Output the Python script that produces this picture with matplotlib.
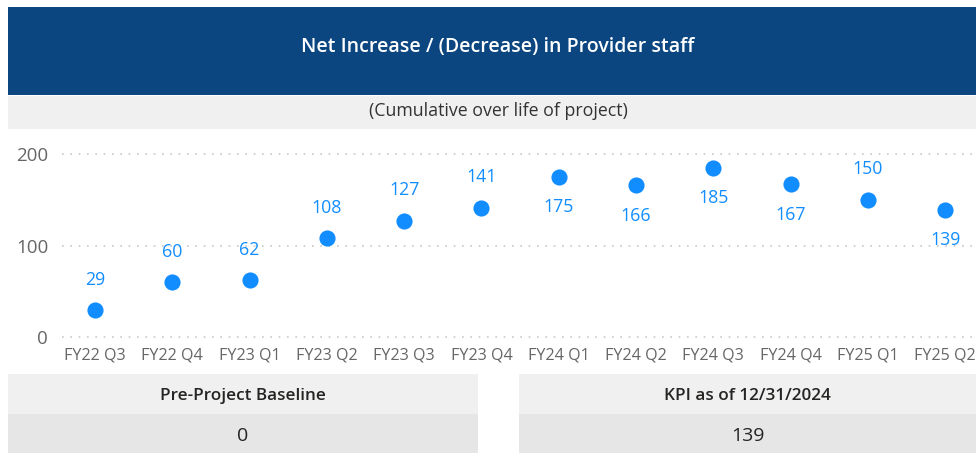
import matplotlib
matplotlib.use("Agg")
import matplotlib.pyplot as plt
from matplotlib.patches import Rectangle

# ── Data ──────────────────────────────────────────────────────────
QUARTERS = ["FY22 Q3", "FY22 Q4", "FY23 Q1", "FY23 Q2", "FY23 Q3", "FY23 Q4",
            "FY24 Q1", "FY24 Q2", "FY24 Q3", "FY24 Q4", "FY25 Q1", "FY25 Q2"]
STAFF = [29, 60, 62, 108, 127, 141, 175, 166, 185, 167, 150, 139]
LABEL_BELOW = [False, False, False, False, False, False,
               True, True, True, True, False, True]

TITLE = "Net Increase / (Decrease) in Provider staff"
SUBTITLE = "(Cumulative over life of project)"
BASELINE_LABEL = "Pre-Project Baseline"
BASELINE_VALUE = 0
KPI_LABEL = "KPI as of 12/31/2024"
KPI_VALUE = STAFF[-1]

# ── Style ─────────────────────────────────────────────────────────
W, H = 976, 453
NAVY = "#0B4680"
DOT = "#118DFF"
GREY_TXT = "#666666"
BAND = "#F0F0F0"
BAND_DARK = "#E6E6E6"
plt.rcParams["font.family"] = ["Open Sans", "DejaVu Sans"]

fig = plt.figure(figsize=(W / 100, H / 100), dpi=100)
fig.patch.set_facecolor("white")


def box(x0, y0, x1, y1, color):
    """Rectangle given in pixels from the top-left corner."""
    fig.add_artist(Rectangle((x0 / W, 1 - y1 / H), (x1 - x0) / W, (y1 - y0) / H,
                             transform=fig.transFigure, facecolor=color,
                             edgecolor="none", zorder=0))


def label(x, y, s, **kw):
    fig.text(x / W, 1 - y / H, s, ha="center", va="center", **kw)


# header bands
box(8, 7, W, 95, NAVY)
label(498, 47, TITLE, color="white", fontsize=14, fontweight="semibold")
box(8, 96, W, 129, BAND)
label(498, 111, SUBTITLE, color="#333333", fontsize=12.8)

# ── Scatter ───────────────────────────────────────────────────────
ax_l, ax_r, ax_t, ax_b = 62, W, 140, 345
ax = fig.add_axes([ax_l / W, 1 - ax_b / H, (ax_r - ax_l) / W, (ax_b - ax_t) / H])
x = range(len(QUARTERS))
ax.scatter(x, STAFF, s=135, color=DOT, zorder=3, linewidths=0)
for xi, v, below in zip(x, STAFF, LABEL_BELOW):
    off = -22 if below else 22
    ax.annotate(str(v), (xi, v), xytext=(0, off), textcoords="offset points",
                ha="center", va="center", color=DOT, fontsize=12.8)

ax.set_xlim(-0.427, 11.40)
ax.set_ylim(-8.7, 215.3)
ax.set_yticks([0, 100, 200])
ax.set_xticks(list(x))
ax.set_xticklabels(QUARTERS)
ax.tick_params(axis="both", length=0, colors=GREY_TXT)
ax.tick_params(axis="y", pad=10, labelsize=13.5)
ax.tick_params(axis="x", pad=2, labelsize=11.6)
ax.grid(axis="y", color="#C8C8C8", linestyle=(0, (1, 4)), linewidth=1.2)
for sp in ax.spines.values():
    sp.set_visible(False)
ax.set_facecolor("none")

# ── KPI cards ─────────────────────────────────────────────────────
for (x0, x1, head, val) in [(8, 478, BASELINE_LABEL, BASELINE_VALUE),
                            (519, W, KPI_LABEL, KPI_VALUE)]:
    box(x0, 374, x1, 414, BAND)
    box(x0, 414, x1, H, BAND_DARK)
    cx = (x0 + x1) / 2
    label(cx, 396, head, color="#252423", fontsize=12.3, fontweight="semibold")
    label(cx, 436, str(val), color="#252423", fontsize=14)

fig.savefig("out.png", dpi=100)
